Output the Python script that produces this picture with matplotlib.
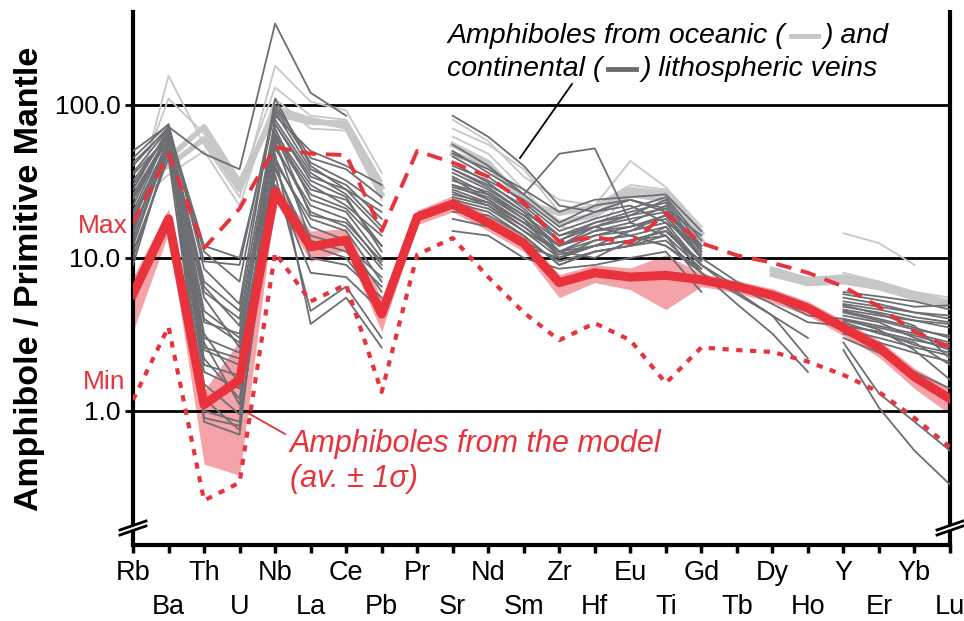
import matplotlib.pyplot as plt
import numpy as np
from matplotlib.lines import Line2D

plt.rcParams['font.family'] = ['Liberation Sans', 'DejaVu Sans']

N = np.nan
elements = ['Rb', 'Ba', 'Th', 'U', 'Nb', 'La', 'Ce', 'Pb', 'Pr', 'Sr', 'Nd', 'Sm',
            'Zr', 'Hf', 'Eu', 'Ti', 'Gd', 'Tb', 'Dy', 'Ho', 'Y', 'Er', 'Yb', 'Lu']

# model amphiboles (average, +-1 sigma, min, max)
model_mean = [5.8, 18, 1.1, 1.6, 27, 11.8, 13.1, 4.3, 18.5, 22.5, 17, 12.5,
              6.9, 8.0, 7.5, 7.7, 7.2, 6.5, 5.7, 4.7, 3.5, 2.6, 1.67, 1.2]
model_upper = [7.5, 21, 1.35, 2.9, 31, 15, 15.5, 5.5, 20.5, 25.5, 19, 14,
               7.8, 9.0, 8.6, 10.5, 7.9, 7.1, 6.3, 5.2, 3.9, 2.9, 1.9, 1.42]
model_lower = [3.3, 14.5, 0.45, 0.38, 23.5, 9.5, 11.3, 3.3, 16.5, 20, 15, 11,
               5.5, 6.9, 6.2, 4.6, 6.5, 5.9, 5.1, 4.2, 3.1, 2.25, 1.4, 0.95]
model_max = [17, 48, 11.6, 21, 53, 48, 47, 15, 50, 42, 34, 23,
             12.7, 13.7, 12.5, 19.5, 12.5, 10.4, 9.3, 8.0, 6.5, 4.8, 3.3, 2.6]
model_min = [1.18, 3.55, 0.26, 0.34, 10.8, 5.2, 6.7, 1.33, 10.5, 13.5, 7.5, 4.4,
             2.9, 3.75, 2.9, 1.52, 2.6, 2.5, 2.43, 2.1, 1.72, 1.33, 0.9, 0.58]

# amphiboles from continental lithospheric veins
continental = [
    [14, 62, 6.0, 4.0, 62, 28, 24, 12, N, 38, 30, 22, 14, 16, 18, 20, 11, N, N, N, 4.8, 4.4, 3.9, 3.5],
    [22, 68, 4.5, 3.0, 70, 24, 20, 10, N, 32, 27, 19, 12, 15, 16, 18, 10, N, N, N, 4.5, 4.0, 3.5, 3.0],
    [40, 72, 48, 38, 340, 120, 85, N, N, 55, 40, 26, 48, 52, 17, 14, N, N, N, N, 6.0, 5.6, 5.2, 4.6],
    [9, 52, 3.0, 2.4, 45, 16, 13, 6.0, N, 24, 21, 15, 10, 12, 13, 15, 9.0, 6.5, 5.0, 3.8, 3.6, 3.3, 2.9, 2.6],
    [16, 48, 2.0, 1.7, 38, 12, 10, 5.0, N, 20, 19, 14, 9.0, 11, 12, 16, 8.0, 5.8, 4.2, 3.0, N, N, N, N],
    [28, 70, 11, 7.0, 95, 42, 32, 22, N, 46, 34, 23, 15, 18, 21, 25, 13, N, N, N, 5.5, 5.0, 4.4, 4.0],
    [11, 45, 1.0, 0.85, 30, 8.0, 7.5, 4.5, N, 26, 23, 17, 11, 13, 14, 12, 8.0, 5.0, 3.2, 1.8, N, N, N, N],
    [19, 58, 3.8, 3.2, 55, 20, 16, 8.5, N, 29, 25, 18, 12, 15, 17, 22, 10, N, N, N, 4.9, 4.3, 3.6, 2.2],
    [32, 65, 7.0, 4.5, 80, 36, 26, 15, N, 42, 31, 21, 13, 16, 19, 24, 12, N, N, N, 4.0, 3.4, 2.5, 1.6],
    [24, 60, 1.2, 0.75, 48, 3.7, 5.5, 2.6, N, 15, 14, 10, 8.5, 9.0, 10, 11, 6.0, N, N, N, 3.0, 2.4, 1.8, 1.4],
    [12, 55, 2.5, 2.0, 40, 10, 9.0, 5.5, N, 22, 18, 13, 9.5, 11, 12, 13, 8.0, N, N, N, 2.5, 1.05, 0.55, 0.33],
    [17, 60, 0.9, 0.8, 35, 4.5, 6.5, 3.0, N, 18, 16, 12, 10, 12, 13, 14, 7.0, N, N, N, 2.8, 1.3, 0.85, 0.55],
    [45, 75, 9.5, 9.0, 100, 45, 38, 25, N, 50, 36, 26, 17, 22, 24, 21, 14, N, N, N, 5.2, 4.8, 4.4, 4.2],
    [26, 64, 5.5, 2.6, 65, 30, 22, 14, N, 36, 28, 20, 11, 14, 15, 19, 10, 7.0, 5.5, 4.2, 4.0, 3.6, 3.2, 2.8],
    [13, 56, 2.2, 1.2, 28, 14, 12, 7.5, N, 30, 26, 19, 13, 17, 20, 23, 11, N, N, N, 3.4, 3.0, 2.6, 2.3],
    [36, 70, 12, 10, 90, 38, 30, 18, N, 40, 32, 24, 16, 20, 22, 17, 12, N, N, N, 4.6, 4.2, 3.9, 3.7],
    [20, 66, 3.2, 1.5, 75, 32, 25, 11, N, 34, 26, 18, 10, 13, 14, 16, 9.0, 6.0, 4.2, 2.2, N, N, N, N],
    [50, 74, 8.5, 5.0, 110, 40, 28, 20, N, 48, 38, 28, 20, 24, 25, 26, 15, N, N, N, 5.8, 5.3, 4.8, 4.9],
    [15, 58, 2.8, 1.1, 52, 22, 18, 9.0, N, 27, 22, 15, 11, 10, 13, 15, 9.5, N, N, N, 3.8, 3.2, 2.8, 2.0],
    [30, 66, 1.5, 0.95, 85, 50, 40, 30, N, 33, 24, 17, 12, 16, 14, 12, 8.5, N, N, N, 4.2, 3.8, 3.0, 2.5],
    [N, N, N, N, N, N, N, N, N, 85, 62, 40, 22, 20, 24, 20, 12, N, N, N, N, N, N, N],
    [10, 50, 2.6, 2.2, 42, 18, 15, 7.0, N, 25, 22, 16, 11, 12, 15, 17, 9.0, N, N, N, 3.9, 3.5, 3.1, 2.7],
    [35, 62, 4.0, 2.8, 60, 26, 21, 12, N, 30, 24, 17, 12, 14, 16, 19, 10.5, N, N, N, 4.4, 3.9, 3.4, 3.1],
    [18, 57, 1.8, 1.4, 65, 19, 17, 9.5, N, 23, 20, 14, 9.0, 11, 12, 14, 8.5, N, N, N, 3.2, 2.8, 2.4, 2.1],
    [42, 70, 6.5, 3.6, 75, 34, 28, 16, N, 38, 29, 20, 14, 17, 19, 21, 11.5, N, N, N, 5.0, 4.6, 4.1, 3.8],
    [25, 64, 0.85, 0.7, 58, 13, 11, 6.5, N, 28, 23, 16, 10.5, 12, 13, 15, 9.0, N, N, N, 3.6, 3.3, 2.7, 2.4],
]

# amphiboles from oceanic lithospheric veins
oceanic = [
    [20, 155, 55, 25, 180, 105, 92, 36, N, 80, 58, 34, 24, 22, 43, 29, 16, N, N, N, N, N, N, N],
    [26, 110, 65, 30, 130, 85, 80, 32, N, 70, 55, 38, 20, 22, 30, 28, 16, N, N, N, 14.5, 12.5, 9.0, N],
    [22, 35, 50, 22, 110, 70, 68, 24, N, 62, 48, 28, 16, 15, 27, 24, 14, N, N, N, 8.0, 7.0, 6.0, 5.5],
]
oceanic_thick = [
    [28, 45, 72, 31, 88, 77, 76, 29, N, 55, 42, 23, 19.6, 21.5, 28, 26.5, 14.5, N, 8.4, 7.2, 7.5, 6.8, 5.8, 5.1],
    [32, 40, 60, 28, 95, 80, 72, 26, N, 48, 40, 25, 17, 19, 26, 24, 13, N, 7.8, 6.8, 7.0, 6.4, 5.5, 4.9],
]

red = '#e8323c'
pink = '#f4a3a9'
dark = '#6d6e71'
light = '#c6c7c9'

W, H = 964, 621
fig = plt.figure(figsize=(W / 100, H / 100), dpi=100)
ax = fig.add_axes([133 / W, 1 - 545 / H, 817 / W, 533 / H])


def px(x, y):
    return (x / W, 1 - y / H)


x = np.arange(len(elements))
ax.fill_between(x, model_lower, model_upper, color=pink, lw=0, zorder=1)
for s in oceanic:
    ax.plot(x, s, color=light, lw=1.3, zorder=2)
for s in oceanic_thick:
    ax.plot(x, s, color=light, lw=4, zorder=2)
for s in continental:
    ax.plot(x, s, color=dark, lw=1.3, zorder=3)
ax.plot(x, model_max, color=red, lw=2.8, dashes=(4, 2.5), zorder=4)
ax.plot(x, model_min, color=red, lw=3, dashes=(1.5, 1.8), zorder=4)
ax.plot(x, model_mean, color=red, lw=6.5, zorder=5)

ax.set_yscale('log')
ax.set_ylim(0.133, 405)
ax.set_xlim(0, 23)
ax.set_yticks([1, 10, 100], ['1.0', '10.0', '100.0'])
ax.yaxis.set_minor_locator(plt.NullLocator())
ax.tick_params(axis='y', length=6, width=2, pad=3, labelsize=19)
ax.grid(axis='y', color='black', lw=2)

ax.set_xticks(x[::2], elements[::2])
ax.set_xticks(x[1::2], elements[1::2], minor=True)
ax.tick_params(axis='x', which='both', direction='out', length=6, width=2.5, labelsize=19.5)
ax.tick_params(axis='x', which='major', pad=5)
ax.tick_params(axis='x', which='minor', pad=29.5)

ax.spines['top'].set_visible(False)
for side in ['left', 'bottom', 'right']:
    ax.spines[side].set_linewidth(3)

ax.set_ylabel('Amphibole / Primitive Mantle', fontsize=24.5, fontweight='bold')
ax.yaxis.set_label_coords(-0.108, 0.5)

# axis breaks
def axis_break(xf):
    dx, dy, yb, gap = 13 / 817, 4.5 / 533, 17 / 533, 5 / 533
    ax.fill([xf - dx, xf + dx, xf + dx, xf - dx],
            [yb - gap / 2 - dy, yb - gap / 2 + dy, yb + gap / 2 + dy, yb + gap / 2 - dy],
            color='white', transform=ax.transAxes, clip_on=False, zorder=9, lw=0)
    for off in (-gap / 2, gap / 2):
        ax.plot([xf - dx, xf + dx], [yb + off - dy, yb + off + dy], color='black', lw=2,
                transform=ax.transAxes, clip_on=False, zorder=10)

axis_break(0)
axis_break(1)

fig.text(*px(128, 226), 'Max', color=red, fontsize=19, ha='right', va='center')
fig.text(*px(125, 382), 'Min', color=red, fontsize=19, ha='right', va='center')

# legend-like annotation for the vein amphiboles; the coloured dashes sit in blank gaps
fs = 20.5
t1 = fig.text(*px(447, 43), 'Amphiboles from oceanic (', fontsize=fs, style='italic')
g1 = ax.annotate('     ', xy=(1, 0), xycoords=t1, va='bottom', fontsize=fs, style='italic')
ax.annotate(') and', xy=(1, 0), xycoords=g1, va='bottom', fontsize=fs, style='italic')
t2 = fig.text(*px(447, 76), 'continental (', fontsize=fs, style='italic')
g2 = ax.annotate('     ', xy=(1, 0), xycoords=t2, va='bottom', fontsize=fs, style='italic')
ax.annotate(') lithospheric veins', xy=(1, 0), xycoords=g2, va='bottom', fontsize=fs,
            style='italic')
fig.add_artist(Line2D([520 / W, 572 / W], [1 - 158 / H, 1 - 84 / H], color='black', lw=1.3,
                      transform=fig.transFigure))

fig.text(*px(290, 452), 'Amphiboles from the model', color=red, fontsize=22, style='italic')
fig.text(*px(290, 487), '(av. ± 1σ)', color=red, fontsize=22, style='italic')
fig.add_artist(Line2D([248 / W, 285 / W], [1 - 413 / H, 1 - 434 / H], color=red, lw=1.3,
                      transform=fig.transFigure))

fig.canvas.draw()
inv = fig.transFigure.inverted()
for gap_text, base, colour in [(g1, 43, light), (g2, 76, dark)]:
    bb = gap_text.get_window_extent()
    (x0, _), (x1, _) = inv.transform([(bb.x0 + 6, 0), (bb.x1 - 6, 0)])
    yy = 1 - (base - 7) / H
    fig.add_artist(Line2D([x0, x1], [yy, yy], color=colour, lw=3.5,
                          transform=fig.transFigure))

fig.savefig('out.png', dpi=100)
